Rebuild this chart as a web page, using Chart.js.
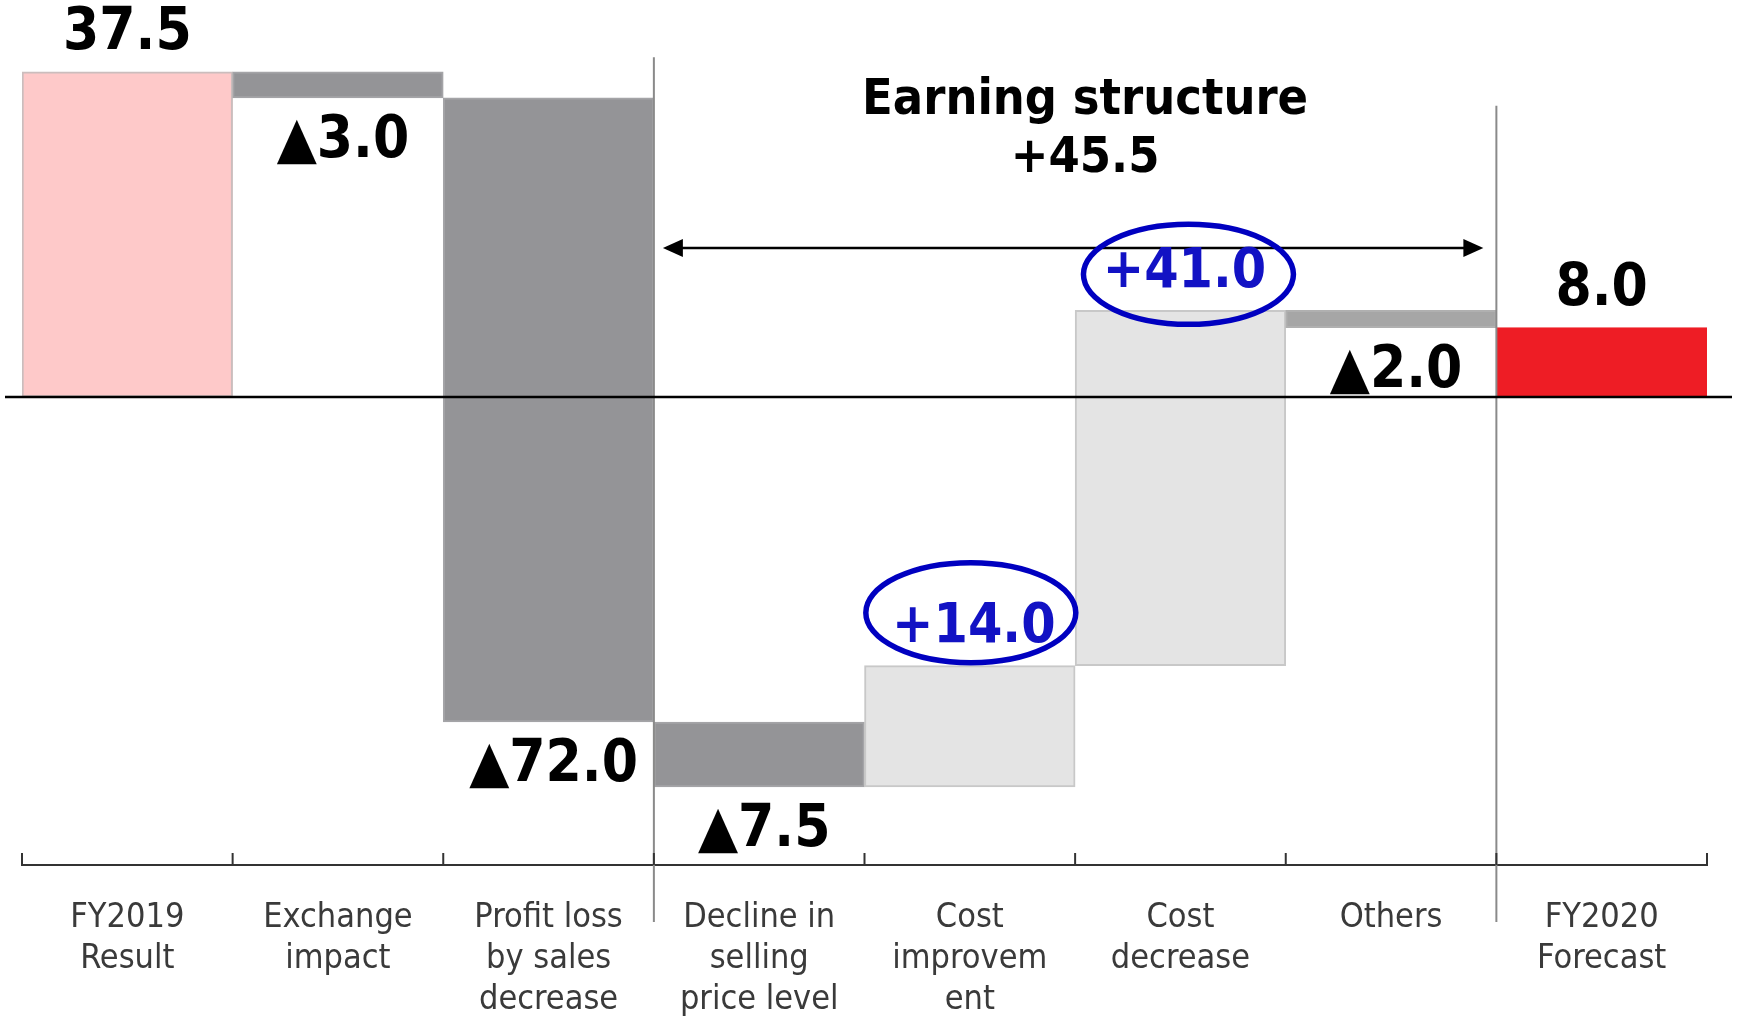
<!DOCTYPE html>
<html>
<head>
<meta charset="utf-8">
<script src="https://cdn.jsdelivr.net/npm/chart.js@4.4.1/dist/chart.umd.min.js"></script>
<style>
  html, body { margin: 0; padding: 0; background: #ffffff; }
  #wrap { position: relative; width: 1738px; height: 1016px; }
</style>
</head>
<body>
<div id="wrap"><canvas id="c"></canvas></div>
<script>
// ---- data ----
const categories = [
  ['FY2019', 'Result'],
  ['Exchange', 'impact'],
  ['Profit loss', 'by sales', 'decrease'],
  ['Decline in', 'selling', 'price level'],
  ['Cost', 'improvem', 'ent'],
  ['Cost', 'decrease'],
  ['Others'],
  ['FY2020', 'Forecast']
];
const deltas = [37.5, -3.0, -72.0, -7.5, 14.0, 41.0, -2.0, 8.0];
const isTotal = [true, false, false, false, false, false, false, true];
const valueLabels = ['37.5', '▲3.0', '▲72.0', '▲7.5', '+14.0', '+41.0', '▲2.0', '8.0'];
const circled = [false, false, false, false, true, true, false, false];
const titleLines = ['Earning structure', '+45.5'];

// floating ranges for waterfall
const ranges = [];
let running = 0;
deltas.forEach((d, i) => {
  if (isTotal[i]) { ranges.push([0, d]); running = d; }
  else { ranges.push([running, running + d]); running += d; }
});

const fills   = ['#fec9c9', '#949497', '#949497', '#949497', '#e4e4e4', '#e4e4e4', '#a6a6a6', '#ee1d25'];
const borders = ['#cbbdbd', '#a4a4a7', '#a4a4a7', '#a4a4a7', '#c8c8c8', '#c8c8c8', '#b0b0b0', '#ee1d25'];
const ellipseLift  = [0, 0, 0, 0, 53, 36, 0, 0];
const ellipseShift = [0, 0, 0, 0, 1, 8, 0, 0];

const COND = "'DejaVu Sans Condensed', 'DejaVu Sans'";

const overlay = {
  id: 'overlay',
  afterDatasetsDraw(chart) {
    const { ctx, scales: { x, y }, chartArea } = chart;
    const meta = chart.getDatasetMeta(0);
    const line = (x1, y1, x2, y2) => { ctx.beginPath(); ctx.moveTo(x1, y1); ctx.lineTo(x2, y2); ctx.stroke(); };
    ctx.save();

    // separators
    ctx.strokeStyle = '#8a8a8a'; ctx.lineWidth = 2;
    const s1 = x.getPixelForValue(2.5), s2 = x.getPixelForValue(6.5);
    line(s1, y.getPixelForValue(39.2), s1, chartArea.bottom + 57);
    line(s2, y.getPixelForValue(33.6), s2, chartArea.bottom + 57);

    // zero line
    const y0 = y.getPixelForValue(0);
    ctx.strokeStyle = '#000'; ctx.lineWidth = 2.5;
    line(5, y0, 1732, y0);

    // axis tick marks (upward)
    ctx.strokeStyle = '#333'; ctx.lineWidth = 2;
    for (let i = 0; i <= categories.length; i++) {
      const px = x.getPixelForValue(i - 0.5);
      line(px, chartArea.bottom, px, chartArea.bottom - 12);
    }

    // double arrow
    const ay = y.getPixelForValue(17.2);
    const ax1 = s1 + 9, ax2 = s2 - 13;
    ctx.strokeStyle = '#000'; ctx.fillStyle = '#000'; ctx.lineWidth = 2.5;
    line(ax1 + 10, ay, ax2 - 10, ay);
    ctx.beginPath(); ctx.moveTo(ax1, ay); ctx.lineTo(ax1 + 20, ay - 9); ctx.lineTo(ax1 + 20, ay + 9); ctx.closePath(); ctx.fill();
    ctx.beginPath(); ctx.moveTo(ax2, ay); ctx.lineTo(ax2 - 20, ay - 9); ctx.lineTo(ax2 - 20, ay + 9); ctx.closePath(); ctx.fill();

    // title text
    ctx.textAlign = 'center'; ctx.textBaseline = 'middle';
    ctx.font = "bold 50px " + COND;
    ctx.fillStyle = '#000';
    const tx = (s1 + s2) / 2 + 10;
    ctx.fillText(titleLines[0], tx, 101);
    ctx.fillText(titleLines[1], tx, 159);

    // value labels
    meta.data.forEach((bar, i) => {
      const r = ranges[i];
      const top = y.getPixelForValue(Math.max(r[0], r[1]));
      const bot = y.getPixelForValue(Math.min(r[0], r[1]));
      const neg = deltas[i] < 0;
      const cx = bar.x + (neg ? 5 : (circled[i] ? 4 : 0));
      const cy = neg ? bot + 44 : top - 38;
      ctx.font = (circled[i] ? "bold 55px " : "bold 58px ") + COND;
      ctx.fillStyle = circled[i] ? '#1212c4' : '#000';
      ctx.fillText(valueLabels[i], cx, cy);
      if (circled[i]) {
        ctx.strokeStyle = '#0000c0'; ctx.lineWidth = 5.5;
        ctx.beginPath();
        ctx.ellipse(bar.x + ellipseShift[i], top - ellipseLift[i], 105, 50, 0, 0, Math.PI * 2);
        ctx.stroke();
      }
    });
    ctx.restore();
  }
};

new Chart(document.getElementById('c'), {
  type: 'bar',
  data: {
    labels: categories,
    datasets: [{
      data: ranges,
      backgroundColor: fills,
      borderColor: borders,
      borderWidth: 2,
      borderSkipped: false,
      barPercentage: 1.0,
      categoryPercentage: 1.0
    }]
  },
  options: {
    responsive: true,
    maintainAspectRatio: false,
    animation: false,
    layout: { padding: { left: 22, right: 31, top: 0, bottom: 0 } },
    plugins: { legend: { display: false }, tooltip: { enabled: false } },
    scales: {
      x: {
        border: { display: true, color: '#333', width: 2 },
        grid: { display: false, drawTicks: false },
        afterFit(scale) { scale.height = 151; },
        ticks: {
          color: '#3a3a3a',
          padding: 33,
          maxRotation: 0,
          autoSkip: false,
          font: { family: COND, size: 34, lineHeight: 1.2 }
        }
      },
      y: { display: false, min: -54, max: 45.8 }
    }
  },
  plugins: [overlay]
});
</script>
</body>
</html>
